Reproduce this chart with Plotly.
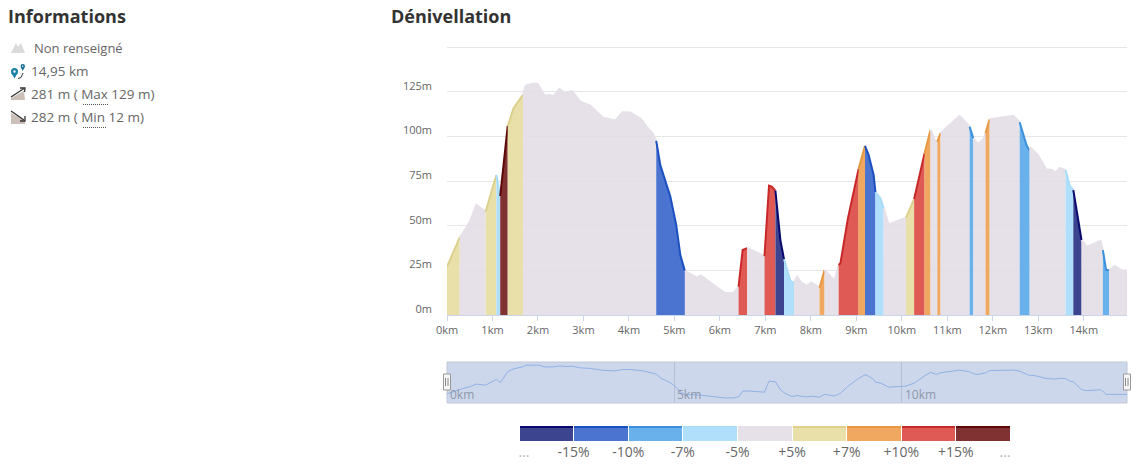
import plotly.graph_objects as go

W, H = 1142, 471

KM = [0, .28, .345, .51, .645, .85, 1.085, 1.17, 1.335, 1.466, 1.67, 1.73, 1.906, 1.994, 2.155, 2.23, 2.35, 2.47,
      2.6, 2.75, 2.93, 3.15, 3.43, 3.7, 3.86, 4.03, 4.27, 4.435, 4.52, 4.6, 4.69, 4.91, 5.04, 5.13, 5.23, 5.38,
      5.49, 5.58, 6.1, 6.3, 6.41, 6.5, 6.6, 6.98, 7.08, 7.14, 7.22, 7.33, 7.41, 7.55, 7.63, 7.7, 7.78, 7.91, 8.01,
      8.19, 8.3, 8.52, 8.61, 8.65, 8.81, 9.05, 9.19, 9.27, 9.38, 9.42, 9.53, 9.6, 9.71, 10.09, 10.27, 10.5, 10.63,
      10.73, 10.78, 10.85, 11.27, 11.49, 11.57, 11.67, 11.8, 11.84, 11.93, 12.45, 12.59, 12.74, 12.81, 12.84, 12.99,
      13.17, 13.3, 13.38, 13.47, 13.6, 13.69, 13.77, 13.95, 14.07, 14.37, 14.42, 14.49, 14.56, 14.68, 14.84, 14.95]
ELEV = [27, 43.5, 45.8, 52.7, 61.7, 58, 78.5, 66.7, 106, 116, 123.4, 128.6, 129.7, 129.5, 122.8, 123.4, 122.8, 126.7,
        124.3, 125.6, 119.6, 117.4, 110.6, 109, 113.6, 113.5, 109.7, 104, 101.9, 97.6, 84, 66.4, 50.5, 33.6, 24.7, 22.8,
        21, 22.2, 12.5, 12.3, 15.9, 36.4, 37.4, 33, 72.5, 72, 69.7, 42, 31.2, 19, 18.3, 21.5, 18.3, 16.4, 18.3,
        15.3, 25.2, 19.3, 28, 29, 53.6, 82, 94.8, 89.7, 78.5, 68.8, 65.4, 59.8, 50.8, 54.6, 65, 90.7, 103.7,
        97.8, 97.2, 101.9, 111.6, 105.6, 99, 95.9, 98.7, 102, 109.7, 111.6, 108, 95.3, 92, 93.5, 89.7,
        81.7, 81.3, 79.8, 82.4, 81.3, 72.5, 70, 42, 38.3, 41.5, 36.4, 25.2, 25.2, 27.5, 24.9, 24.9]

SEG_END = [.28, .85, 1.085, 1.17, 1.335, 1.67, 4.6, 5.23, 6.41, 6.6, 6.98, 7.22, 7.41, 7.63, 8.19, 8.3, 8.61, 9.05,
           9.19, 9.42, 9.6, 10.09, 10.27, 10.5, 10.63, 10.78, 10.85, 11.49, 11.57, 11.84, 11.93, 12.59, 12.81, 13.6,
           13.77, 13.95, 14.42, 14.56, 14.95]
SEG_CLASS = [5, 4, 5, 3, 8, 5, 4, 1, 4, 7, 4, 7, 0, 3, 4, 6, 4, 7,
             6, 1, 3, 4, 5, 7, 6, 4, 6, 4, 2, 4, 6, 4, 2, 4,
             3, 0, 4, 2, 4]

Y_TICKS = [0, 25, 50, 75, 100, 125, 150]
Y_LABELS = ["0m", "25m", "50m", "75m", "100m", "125m", ""]
X_TICKS = list(range(0, 15))
X_LABELS = [f"{k}km" for k in X_TICKS]
NAV_TICKS = [5, 10]
NAV_LABELS = [(0, "0km"), (5, "5km"), (10, "10km")]

FILL = ["#3c4490", "#4a74d0", "#68b1eb", "#b0dffb", "rgba(226,220,228,0.85)", "#e8e0a8", "#f0a860", "#e05a55", "#803232"]
LINE = ["#0a0a6e", "#1c4fc0", "#3c8fdb", "#a8dcf8", "#e6e1e8", "#dcd08c", "#e89840", "#c82828", "#5a0808"]
LEG_FILL = ["#3c4490", "#4a74d0", "#68b1eb", "#b0dffb", "#e6e1e8", "#e8e0a8", "#f0a860", "#e05a55", "#803232"]
LEG_POS = [.09, 1, 2, 3, 4, 5, 6, 7, 8, 8.9]
LEG_LABELS = ['<span style="color:#b5b5b5">...</span>', "-15%", "-10%", "-7%", "-5%", "+5%", "+7%", "+10%", "+15%",
              '<span style="color:#b5b5b5">...</span>']
LEG_X = [i + .5 for i in range(9)]
LEG_BODY = [13] * 9
LEG_TOP = [2] * 9


def px_x(v):
    return v / W


def px_y(v):
    return 1 - v / H


FONT = "Open Sans, Noto Sans, sans-serif"
fig = go.Figure()

start = 0
for end, cls in zip(SEG_END, SEG_CLASS):
    xs = [k for k in KM if start <= k <= end]
    ys = [e for k, e in zip(KM, ELEV) if start <= k <= end]
    fig.add_trace(go.Scatter(x=xs, y=ys, mode="lines", fill="tozeroy", fillcolor=FILL[cls],
                             line=dict(color=LINE[cls], width=2), xaxis="x", yaxis="y",
                             showlegend=False, hoverinfo="skip"))
    start = end

fig.add_trace(go.Scatter(x=KM, y=ELEV, mode="lines", line=dict(color="#8fb2e6", width=1),
                         xaxis="x2", yaxis="y2", showlegend=False, hoverinfo="skip"))

fig.add_trace(go.Bar(x=LEG_X, y=LEG_BODY, marker=dict(color=LEG_FILL, line_width=0), width=.98,
                     xaxis="x3", yaxis="y3", showlegend=False, hoverinfo="skip"))
fig.add_trace(go.Bar(x=LEG_X, y=LEG_TOP, marker=dict(color=LINE, line_width=0), width=.98,
                     xaxis="x3", yaxis="y3", showlegend=False, hoverinfo="skip"))

shapes = []
# navigator background
shapes.append(dict(type="rect", xref="x2 domain", yref="y2 domain", x0=0, x1=1, y0=0, y1=1,
                   fillcolor="#cdd7eb", line=dict(color="#c2c9d6", width=1), layer="below"))
# navigator handles
for cx in (447, 1127):
    shapes.append(dict(type="rect", xref="paper", yref="paper", x0=px_x(cx - 3.5), x1=px_x(cx + 3.5),
                       y0=px_y(390), y1=px_y(374), fillcolor="#f7f7f7", line=dict(color="#999999", width=1)))
    for dx in (-1.5, 1):
        shapes.append(dict(type="line", xref="paper", yref="paper", x0=px_x(cx + dx), x1=px_x(cx + dx),
                           y0=px_y(386), y1=px_y(378), line=dict(color="#888888", width=1)))


def path(points, fill, line=None, width=1.5, dash="solid"):
    d = "M " + " L ".join(f"{px_x(a):.5f},{px_y(b):.5f}" for a, b in points)
    if fill:
        d += " Z"
    shapes.append(dict(type="path", xref="paper", yref="paper", path=d,
                       fillcolor=fill or "rgba(0,0,0,0)",
                       line=dict(color=line or fill, width=width if line else 0, dash=dash)))


def dot(x0, x1, y0, y1, color):
    shapes.append(dict(type="circle", xref="paper", yref="paper", x0=px_x(x0), x1=px_x(x1), y0=px_y(y0), y1=px_y(y1),
                       fillcolor=color, line=dict(color=color, width=0)))


# mountain icon
path([(11, 53), (16, 43), (18, 47), (21, 43), (25, 53)], "#dadada")
# pin icon
path([(11.5, 73), (14.5, 78.5), (17.5, 73)], "#1b7fa6")
dot(11, 18, 75, 68, "#1b7fa6")
dot(13.3, 15.7, 72.7, 70.3, "#ffffff")
path([(20.9, 67.5), (22.7, 71), (24.5, 67.5)], "#1b6f96")
dot(20.5, 25, 68.5, 64, "#1b6f96")
dot(22, 23.4, 66.9, 65.5, "#ffffff")
path([(18, 78.5), (21, 77.5), (23, 73)], None, "#333333", 1)
# up icon
path([(11, 100), (11, 98), (24, 91), (25, 100)], "#cbbfb7")
path([(11, 97), (24, 88.5)], None, "#333333", 1.3)
path([(20, 88), (25, 88), (24.5, 92)], None, "#333333", 1.3)
# down icon
path([(11, 113), (25, 120.5), (25, 124), (11, 124)], "#cbbfb7")
path([(11, 111), (24, 120)], None, "#333333", 1.3)
path([(25, 116), (25, 121), (20, 121)], None, "#333333", 1.3)
# dotted underlines
for x0, x1, y in ((83, 108, 104.5), (83, 106, 127.5)):
    path([(x0, y), (x1, y)], None, "#555555", 1, "1px,1px")

annotations = []


def text(x, y, s, size=13, color="#666666", bold=False):
    annotations.append(dict(xref="paper", yref="paper", x=px_x(x), y=px_y(y), text=f"<b>{s}</b>" if bold else s,
                            showarrow=False, xanchor="left", yanchor="middle", borderpad=0,
                            font=dict(family=FONT, size=size, color=color)))


text(7, 16, "Informations", 18, "#333333", True)
text(390, 16, "Dénivellation", 18, "#333333", True)
text(33, 48, "Non renseigné")
text(30, 71, "14,95 km", 13.5)
text(30, 94, "281 m ( Max 129 m)", 13.5)
text(30, 117, "282 m ( Min 12 m)", 13.5)
for k, s in NAV_LABELS:
    annotations.append(dict(xref="x2", yref="y2 domain", x=k, y=.2, text=s, showarrow=False, xanchor="left",
                            yanchor="middle", xshift=2, borderpad=0, font=dict(family=FONT, size=12, color="#8d97aa")))

fig.update_layout(
    width=W, height=H, margin=dict(l=0, r=0, t=0, b=0, autoexpand=False), paper_bgcolor="white", plot_bgcolor="white",
    barmode="stack", shapes=shapes, annotations=annotations, showlegend=False,
    font=dict(family=FONT),
    xaxis=dict(domain=[px_x(447), px_x(1127)], range=[0, 14.95], tickvals=X_TICKS, ticktext=X_LABELS, showgrid=False,
               zeroline=False, showline=True, linecolor="#ccd6eb", linewidth=1, ticks="outside", ticklen=5,
               tickcolor="#ccd6eb", tickfont=dict(size=11, color="#666666"), anchor="y"),
    yaxis=dict(domain=[px_y(315), px_y(315 - 151 * 1.784)], range=[0, 151], tickvals=Y_TICKS, ticktext=Y_LABELS,
               gridcolor="#e6e6e6", gridwidth=1, zeroline=False, showline=False, ticks="", ticklabelshift=-6,
               ticklabelstandoff=14, tickfont=dict(size=11, color="#666666"), anchor="x"),
    xaxis2=dict(domain=[px_x(447), px_x(1127)], range=[0, 14.95], tickvals=NAV_TICKS, ticktext=["", ""], showgrid=True,
                gridcolor="#b6c0d4", zeroline=False, showline=False, ticks="", anchor="y2"),
    yaxis2=dict(domain=[px_y(403), px_y(362)], range=[-5.6, 140.4], showgrid=False, zeroline=False, showline=False,
                showticklabels=False, ticks="", anchor="x2"),
    xaxis3=dict(domain=[px_x(519), px_x(1010.5)], range=[0, 9], tickvals=LEG_POS, ticktext=LEG_LABELS, showgrid=False,
                zeroline=False, showline=False, ticks="", ticklabelstandoff=1,
                tickfont=dict(size=14, color="#666666"), anchor="y3"),
    yaxis3=dict(domain=[px_y(441), px_y(426)], range=[0, 15], showgrid=False, zeroline=False, showline=False,
                showticklabels=False, ticks="", anchor="x3"),
)

fig.write_html("out.html", config={"displayModeBar": False},
               post_script="document.body.style.margin='0';document.documentElement.style.overflow='hidden';")
